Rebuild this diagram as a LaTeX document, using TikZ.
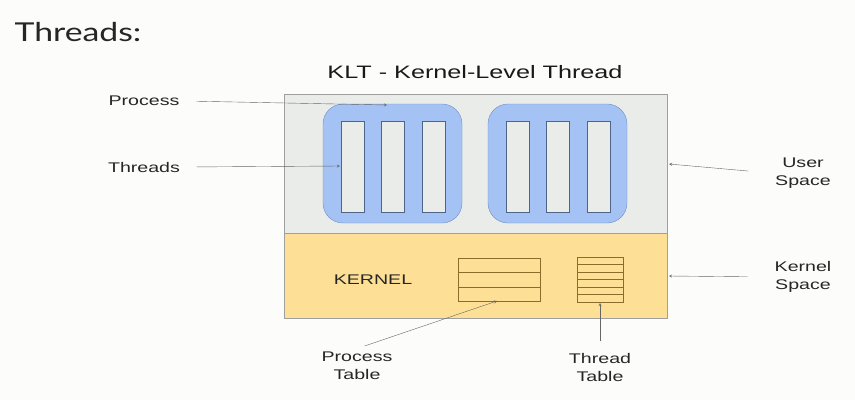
\documentclass[tikz,border=0pt]{standalone}
\usepackage{fontspec}
\setmainfont{Liberation Sans}
\newfontfamily\headfont{Lato}
\usepackage{xcolor}
\definecolor{userspace}{HTML}{E9ECE9}
\definecolor{kernelspace}{HTML}{FEDF96}
\definecolor{procblue}{HTML}{A4C2F4}
\definecolor{procedge}{HTML}{6F8FC4}
\definecolor{tableedge}{HTML}{8A6D2A}
\definecolor{labelgray}{HTML}{262626}
\definecolor{paper}{HTML}{FCFCFA}
\usetikzlibrary{positioning}
\usetikzlibrary{calc}
\tikzset{
  lbl/.style={text=labelgray, xscale=1.4, font=\fontsize{14}{18}\selectfont, align=center},
  pointer/.style={draw=gray!80!black, thin, ->, >=stealth}
}

\begin{document}
\begin{tikzpicture}[x=1pt, y=-1pt]

\fill[paper] (0,0) rectangle (855,400);
\useasboundingbox (0,0) rectangle (855,400);

% heading
\node[anchor=west, text=labelgray, xscale=1.3, font=\headfont\fontsize{26}{30}\selectfont] (heading) at (10,32) {Threads:};
\node[text=black!90, xscale=1.4, font=\fontsize{18}{22}\selectfont] (klt) at (475,72) {KLT - Kernel-Level Thread};

% user space
\filldraw[fill=userspace, draw=gray!75] (284,94) rectangle (667,233);

% kernel space
\filldraw[fill=kernelspace, draw=gray!75] (284,233) rectangle (667,318);

% processes with three threads each
\foreach \px in {323,488}{
  \filldraw[fill=procblue, draw=procedge, rounded corners=20pt] (\px,104) rectangle ++(139,119);
  \foreach \tx in {18,58,99}
    \filldraw[fill=userspace, draw=procedge!70!black] (\px+\tx,121) rectangle ++(23,91);
}

% process table
\filldraw[fill=kernelspace, draw=tableedge] (458,258) rectangle (540,301);
\foreach \ty in {272,287}
  \draw[tableedge] (458,\ty) -- (540,\ty);

% thread table
\filldraw[fill=kernelspace, draw=tableedge] (577,257) rectangle (623,302);
\foreach \ty in {264.5,272,279.5,287,294.5}
  \draw[tableedge] (577,\ty) -- (623,\ty);

\node[lbl, text=black!85] (kernel) at (373,280) {KERNEL};

% tips
\coordinate (proctip) at (387,105);
\coordinate (threadtip) at (340,166);
\coordinate (usertip) at (669,164);
\coordinate (kerneltip) at (669,276);
\coordinate (ptabletip) at (497,301);
\coordinate (ttabletip) at (600,303);

% labels
\node[lbl] (proclbl) at (144,101) {Process};
\node[lbl] (threadlbl) at (144,167) {Threads};
\node[lbl] (userlbl) at (803,173) {User\\Space};
\node[lbl] (kernellbl) at (803,277) {Kernel\\Space};
\node[lbl] (ptablelbl) at (357,366) {Process\\Table};
\node[lbl] (ttablelbl) at (600,367) {Thread\\Table};

\draw[pointer, shorten <=12pt] (proclbl.east) -- (proctip);
\draw[pointer, shorten <=12pt] (threadlbl.east) -- (threadtip);
\draw[pointer, shorten <=22pt] (userlbl.west) -- (usertip);
\draw[pointer, shorten <=22pt] (kernellbl.west) -- (kerneltip);
\draw[pointer, shorten <=8pt] (ptablelbl.north) -- (ptabletip);
\draw[pointer, shorten <=8pt] (ttablelbl.north) -- (ttabletip);

\end{tikzpicture}
\end{document}
